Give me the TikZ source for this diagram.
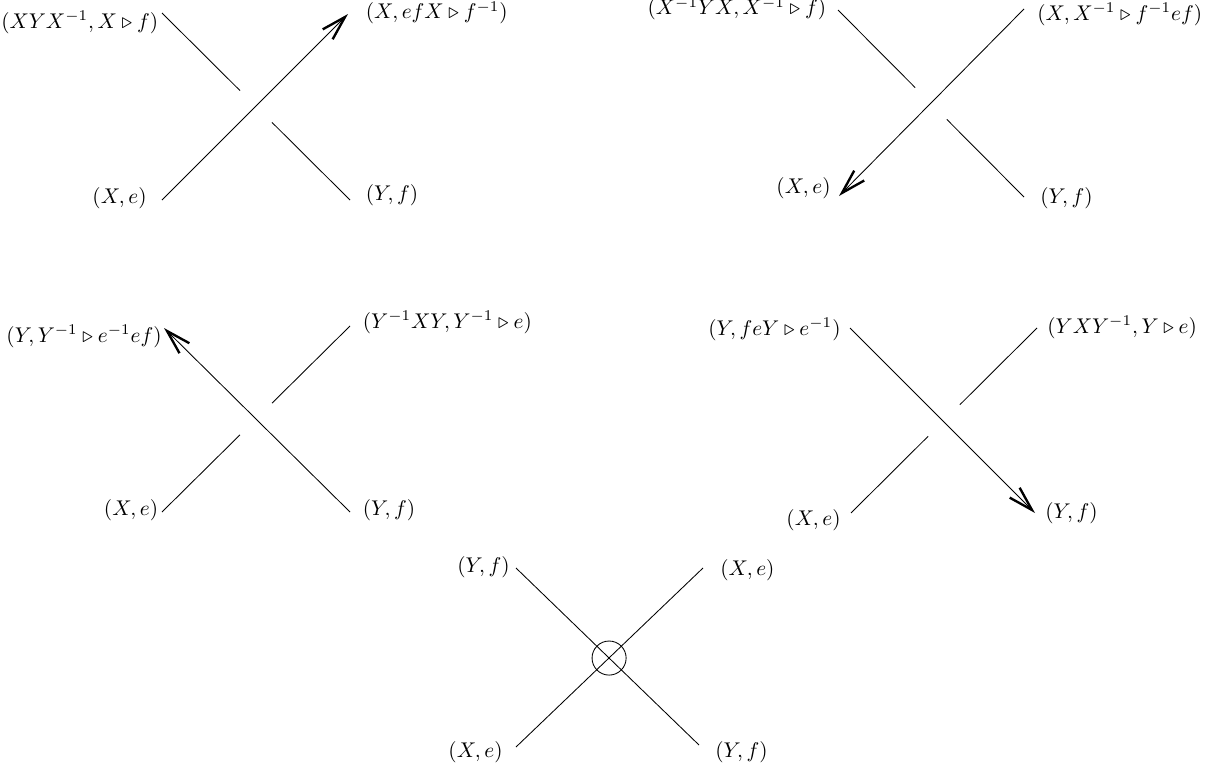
\documentclass[tikz,border=0pt]{standalone}
\usepackage{amsmath}
\usepackage{amssymb}
\usepackage{tikz}
\usetikzlibrary{positioning,arrows.meta,calc}

\begin{document}
\begin{tikzpicture}[x=0.4695pt,y=-0.4695pt,
  >={Straight Barb[length=11.5pt,width=6.6pt,line width=1.1pt]},
  lbl/.style={inner sep=0pt},
  virt/.style={draw,circle,inner sep=0pt,minimum size=16pt}]

\useasboundingbox (0,0) rectangle (1212,771);

% strand ends, one crossing after the other
\coordinate (u1s) at (162,13);  \coordinate (u1e) at (350,200);
\coordinate (o1s) at (162,200); \coordinate (o1e) at (348,14);
\coordinate (u2s) at (838,10);  \coordinate (u2e) at (1024,197);
\coordinate (o2s) at (1024,9);  \coordinate (o2e) at (839,196);
\coordinate (u3s) at (162,512); \coordinate (u3e) at (350,326);
\coordinate (o3s) at (350,512); \coordinate (o3e) at (164,328);
\coordinate (u4s) at (851,513); \coordinate (u4e) at (1037,328);
\coordinate (o4s) at (850,328); \coordinate (o4e) at (1035,513);
\coordinate (p5a) at (516,568); \coordinate (p5b) at (699,745);
\coordinate (p5c) at (703,568); \coordinate (p5d) at (516,747);

% under strands, broken at the crossing
\foreach \s/\e in {u1s/u1e,u2s/u2e,u3s/u3e,u4s/u4e}{
  \draw (\s) -- ($(\s)!0.415!(\e)$);
  \draw ($(\s)!0.585!(\e)$) -- (\e);
}

% over strands
\foreach \k in {1,...,4}{
  \draw[->] (o\k s) -- (o\k e);
}

% virtual crossing
\draw (p5a) -- (p5b);
\draw (p5c) -- (p5d);
\node[virt] (v5) at (intersection of p5a--p5b and p5c--p5d) {};

\node[lbl, anchor=base east] (l1tl) at (158.5,28)  {$(XYX^{-1},X\triangleright f)$};
\node[lbl, anchor=base west] (l1tr) at (365.5,19)  {$(X,efX\triangleright f^{-1})$};
\node[lbl, anchor=base east] (l1bl) at (147,203)   {$(X,e)$};
\node[lbl, anchor=base west] (l1br) at (365.5,200) {$(Y,f)$};

\node[lbl, anchor=base east] (l2tl) at (826.5,15) {$(X^{-1}YX,X^{-1}\triangleright f)$};
\node[lbl, anchor=base west] (l2tr) at (1037,20)  {$(X,X^{-1}\triangleright f^{-1}ef)$};
\node[lbl, anchor=base east] (l2bl) at (831,193)  {$(X,e)$};
\node[lbl, anchor=base west] (l2br) at (1040,203) {$(Y,f)$};

\node[lbl, anchor=base east] (l3tl) at (162,342)   {$(Y,Y^{-1}\triangleright e^{-1}ef)$};
\node[lbl, anchor=base west] (l3tr) at (362.5,328) {$(Y^{-1}XY,Y^{-1}\triangleright e)$};
\node[lbl, anchor=base east] (l3bl) at (158.5,515) {$(X,e)$};
\node[lbl, anchor=base west] (l3br) at (362.5,515) {$(Y,f)$};

\node[lbl, anchor=base east] (l4tl) at (841,335)  {$(Y,feY\triangleright e^{-1})$};
\node[lbl, anchor=base west] (l4tr) at (1047,333) {$(YXY^{-1},Y\triangleright e)$};
\node[lbl, anchor=base east] (l4bl) at (841,525)  {$(X,e)$};
\node[lbl, anchor=base west] (l4br) at (1045,518) {$(Y,f)$};

\node[lbl, anchor=base east] (l5tl) at (510,572) {$(Y,f)$};
\node[lbl, anchor=base west] (l5tr) at (720,575) {$(X,e)$};
\node[lbl, anchor=base east] (l5bl) at (503,757) {$(X,e)$};
\node[lbl, anchor=base west] (l5br) at (715,757) {$(Y,f)$};

\end{tikzpicture}
\end{document}
